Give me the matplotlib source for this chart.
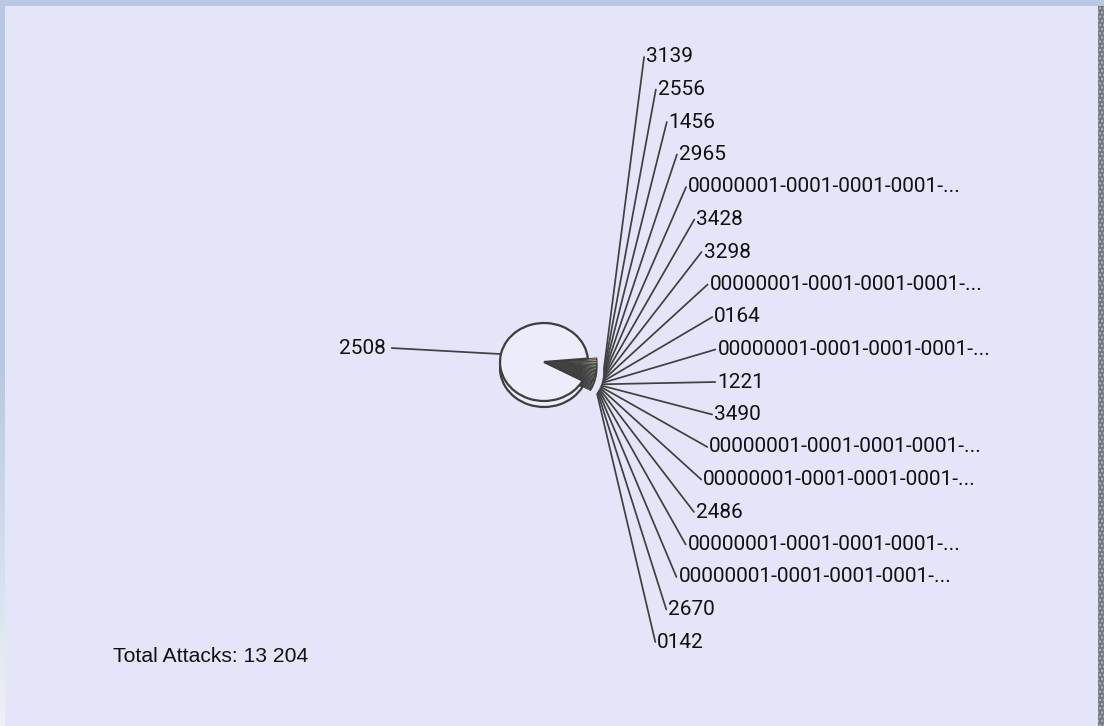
import numpy as np
import matplotlib.pyplot as plt
from matplotlib.patches import Rectangle
from matplotlib.transforms import Affine2D
from matplotlib.colors import LinearSegmentedColormap

# data: one big source and 19 small ones
labels = ["3139", "2556", "1456", "2965", "00000001-0001-0001-0001-...",
          "3428", "3298", "00000001-0001-0001-0001-...", "0164",
          "00000001-0001-0001-0001-...", "1221", "3490",
          "00000001-0001-0001-0001-...", "00000001-0001-0001-0001-...",
          "2486", "00000001-0001-0001-0001-...", "00000001-0001-0001-0001-...",
          "2670", "0142"]
values = [88, 80, 75, 72, 70, 68, 66, 65, 63, 62, 61, 60, 60, 59, 58, 57, 56, 55, 55]
total = 13204
main_label = "2508"
main_value = total - sum(values)

small_colors = ["#f6d2c4", "#f8e4c8", "#f6efc6", "#e4f0c8", "#cdeed8", "#c6e6ea",
                "#cbd8f2", "#dccdf2", "#f0cce6", "#f6d2c4", "#f8e4c8", "#f6efc6",
                "#e4f0c8", "#cdeed8", "#c6e6ea", "#cbd8f2", "#dccdf2", "#f0cce6",
                "#a8d8d0"]

W, H = 1104, 726
cx, cy = 544, 362
r_main, r_small = 44, 53
squash = 0.886
depth = 6
edge = "#3d3d3d"

fig = plt.figure(figsize=(W / 100, H / 100), dpi=100)
fig.patch.set_facecolor("#b8c8e2")
ax = fig.add_axes([0, 0, 1, 1])

# frame: left edge fades from blue to near white
grad = LinearSegmentedColormap.from_list("edge", ["#b8c8e2", "#b8c8e2", "#eef0f8"])
ax.imshow(np.linspace(0, 1, 100).reshape(-1, 1), cmap=grad, aspect="auto",
          extent=(0, 5, H, 6), zorder=0)
ax.add_patch(Rectangle((5, 6), W - 11, H, facecolor="#e5e5f9", edgecolor="none", zorder=0))
ax.add_patch(Rectangle((W - 6, 6), 6, H, facecolor="#747a86", edgecolor="#b0b4bc",
                       hatch="....", lw=0, zorder=0))

vals = values + [main_value]
cols = small_colors + ["#ececfa"]


def draw_pie(yoff, z):
    wedges, _ = ax.pie(vals, colors=cols, startangle=-5, counterclock=True,
                       center=(cx, cy + yoff), radius=r_main,
                       wedgeprops=dict(edgecolor=edge, linewidth=1.6))
    tr = Affine2D().translate(-cx, -(cy + yoff)).scale(1, squash).translate(cx, cy + yoff)
    for i, w in enumerate(wedges):
        if i < len(values):
            w.set_radius(r_small)
            w.set_linewidth(0.7)
        w.set_transform(tr + ax.transData)
        w.set_zorder(z)
    return wedges


draw_pie(depth, 2)
wedges = draw_pie(0, 3)

# leader lines and labels for small slices
ys = np.linspace(57, 642, len(values))
for w, lab, y in zip(wedges[:len(values)], labels, ys):
    a = np.deg2rad((w.theta1 + w.theta2) / 2)
    sx = cx + (r_small + 7) * np.cos(a)
    sy = cy + squash * r_small * np.sin(a) + 10
    lx = 716 - 0.0075 * abs(y - 365) ** 1.6
    ax.plot([sx, lx], [sy, y], color="#404040", lw=1.25, zorder=4, solid_capstyle="round")
    ax.text(lx + 2, y, lab, ha="left", va="center", fontsize=15,
            family="Roboto", color="#111111", zorder=5)

# main slice label
wm = wedges[-1]
a = np.deg2rad((wm.theta1 + wm.theta2) / 2)
mx = cx + r_main * np.cos(a)
my = cy + squash * r_main * np.sin(a)
ax.plot([mx, 392], [my, my - 6], color="#404040", lw=1.25, zorder=4)
ax.text(386, my - 6, main_label, ha="right", va="center", fontsize=15,
        family="Roboto", color="#111111", zorder=5)

ax.text(113, 657, f"Total Attacks: {total // 1000} {total % 1000:03d}", ha="left",
        va="center", fontsize=15.2, family="Liberation Sans", color="#111111")

ax.set_xlim(0, W)
ax.set_ylim(H, 0)
ax.set_aspect("auto")
ax.axis("off")

fig.savefig("out.png", dpi=100, facecolor=fig.get_facecolor())
